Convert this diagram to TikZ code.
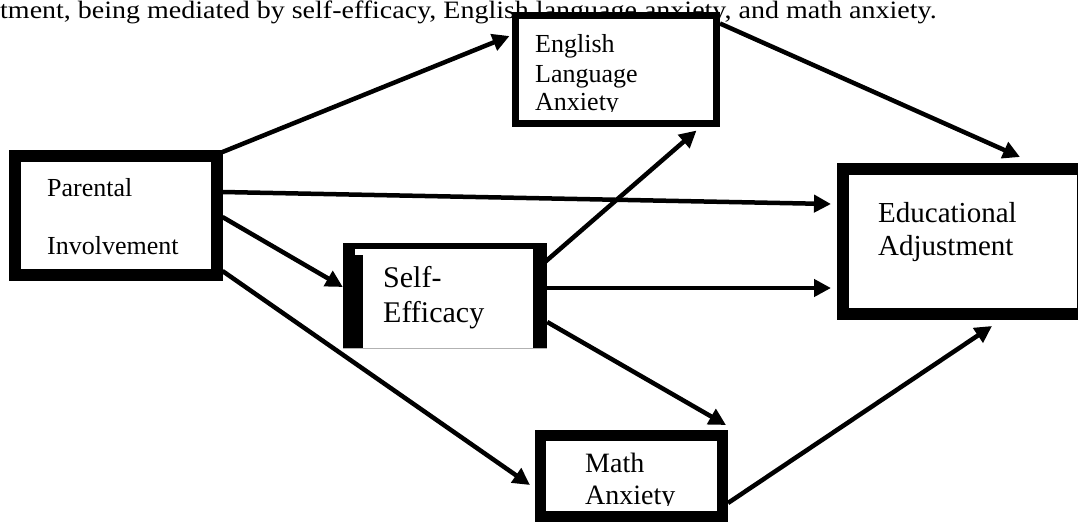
\documentclass[tikz,border=0pt]{standalone}
\usepackage{fontspec}
\setmainfont{Liberation Serif}
\usetikzlibrary{arrows.meta,calc}
\begin{document}
\begin{tikzpicture}[x=1pt,y=-1pt,
  arr/.style={line width=4.5pt,-{Triangle[length=17pt,width=17pt]}},
  box/.style={draw,fill=white,rectangle,inner sep=0pt},
  txt/.style={anchor=base west,inner sep=0pt},
  capt/.style={anchor=base west,inner sep=0pt,font=\fontsize{25}{25}\selectfont}]
\useasboundingbox (0,0) rectangle (1078,523);
% caption (cut at the top)
\node[capt] (cap) at (0,18) {\scalebox{1.12}[1]{tment, being mediated by self-efficacy, English language anxiety, and math anxiety.}};
% boxes
\node[box,line width=12pt,minimum width=201.5pt,minimum height=119pt] (par) at (115.75,215.5) {};
\node[box,line width=7pt,minimum width=201pt,minimum height=108pt] (eng) at (616,69.5) {};
\node[box,line width=12pt,minimum width=240pt,minimum height=145pt] (edu) at (963,241.5) {};
\node[box,line width=11pt,minimum width=182pt,minimum height=81pt] (math) at (631.5,476) {};
\node[fill=white,rectangle,inner sep=0pt,minimum width=204pt,minimum height=105pt] (se) at (445,295.5) {};
% self-efficacy box borders (uneven)
\fill (se.north west) rectangle ($(se.north east)+(0,6)$);
\fill (se.north west) rectangle ($(se.south west)+(20,0)$);
\fill ($(se.north east)+(-14,0)$) rectangle (se.south east);
\fill[white] ($(se.north west)+(12,6)$) rectangle ($(se.north west)+(20,12)$);
\draw[gray!60,line width=1pt] (se.south west) -- (se.south east);
% texts
\begin{scope}[font=\fontsize{26}{26}\selectfont]
\node[txt] (t1) at (47,196) {Parental};
\node[txt] (t2) at (47,254) {Involvement};
\node[txt] (t3) at (535,52) {English};
\node[txt] (t4) at (535,82) {Language};
\begin{scope}
\clip (530,80) rectangle (700,111);
\node[txt] (t5) at (535,110) {Anxiety};
\end{scope}
\end{scope}
\node[txt,font=\fontsize{30}{30}\selectfont] (t6) at (383,287) {Self-};
\node[txt,font=\fontsize{30}{30}\selectfont] (t7) at (383,322) {Efficacy};
\node[txt,font=\fontsize{29}{29}\selectfont] (t8) at (878,222) {Educational};
\node[txt,font=\fontsize{29}{29}\selectfont] (t9) at (878,255) {Adjustment};
\node[txt,font=\fontsize{28}{28}\selectfont] (t10) at (585,472) {Math};
\begin{scope}
\clip (580,480) rectangle (720,505);
\node[txt,font=\fontsize{28}{28}\selectfont] (t11) at (585,504) {Anxiety};
\end{scope}
% arrows
\draw[arr] ($(par.north east)+(0,2)$) -- ($(eng.west)+(-2.5,-33.5)$);
\draw[arr] ($(par.east)+(0,-23.5)$) -- ($(edu.west)+(-6,-37.5)$);
\draw[arr] ($(par.east)+(0,1.5)$) -- ($(se.west)+(0,-8.5)$);
\draw[arr] ($(par.south east)+(0,-10)$) -- ($(math.west)+(-5,9)$);
\draw[arr] ($(se.north east)+(-2,19)$) -- ($(eng.south east)+(-23.5,3.5)$);
\draw[arr] ($(se.east)+(0,-7.5)$) -- ($(edu.west)+(-6,46.5)$);
\draw[arr] ($(se.east)+(0,26.5)$) -- ($(math.north east)+(-2,-5)$);
\draw[arr] ($(eng.north east)+(0,11.5)$) -- ($(edu.north)+(57,-6)$);
\draw[arr] ($(math.east)+(0,27)$) -- ($(edu.south)+(29,6)$);
\end{tikzpicture}
\end{document}
